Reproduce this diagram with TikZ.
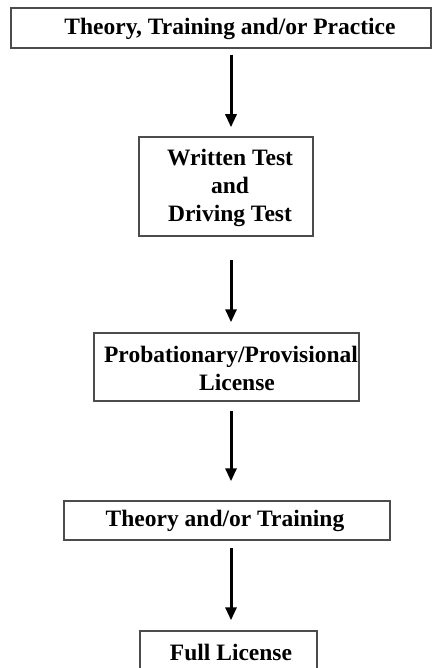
\documentclass[tikz,border=0pt]{standalone}
\usepackage{fontspec}
\setmainfont{Liberation Serif}
\usetikzlibrary{arrows.meta}
\begin{document}
\begin{tikzpicture}[x=0.5pt, y=-0.5pt,
  box/.style={draw=black!70, line width=0.75pt, inner sep=0pt},
  lbl/.style={font=\fontsize{11.75pt}{14pt}\selectfont\bfseries, align=center, inner sep=0pt},
  flow/.style={line width=1.5pt, -{Triangle[width=5.5pt,length=6.5pt]}}]
  \useasboundingbox (0,0) rectangle (432,668);
  % boxes
  \node[box, minimum width=210pt, minimum height=20pt]   (b1) at (221,28) {};
  \node[box, minimum width=87pt,  minimum height=49.5pt] (b2) at (226,186.5) {};
  \node[box, minimum width=132.5pt, minimum height=34pt] (b3) at (226.5,367) {};
  \node[box, minimum width=163pt, minimum height=19.5pt] (b4) at (227,520.5) {};
  \node[box, minimum width=88.5pt, minimum height=20pt]  (b5) at (228.5,651) {};
  % labels
  \node[lbl] (t1) at (230,29) {Theory, Training and/or Practice};
  \node[lbl] (t2) at (230,188) {Written Test\\and\\Driving Test};
  \node[lbl] (t3) at (231,368) {Probationary/Provisional\\\hspace*{6pt}License};
  \node[lbl] (t4) at (225,521) {Theory and/or Training};
  \node[lbl] (t5) at (231,652) {Full License};
  % arrows
  \coordinate (ax) at (231,0);
  \draw[flow, shorten <=3pt,    shorten >=4.5pt] (b1.south -| ax) -- (b2.north -| ax);
  \draw[flow, shorten <=11.5pt, shorten >=5pt]   (b2.south -| ax) -- (b3.north -| ax);
  \draw[flow, shorten <=4.5pt,  shorten >=9.5pt] (b3.south -| ax) -- (b4.north -| ax);
  \draw[flow, shorten <=3.5pt,  shorten >=5pt]   (b4.south -| ax) -- (b5.north -| ax);
\end{tikzpicture}
\end{document}
